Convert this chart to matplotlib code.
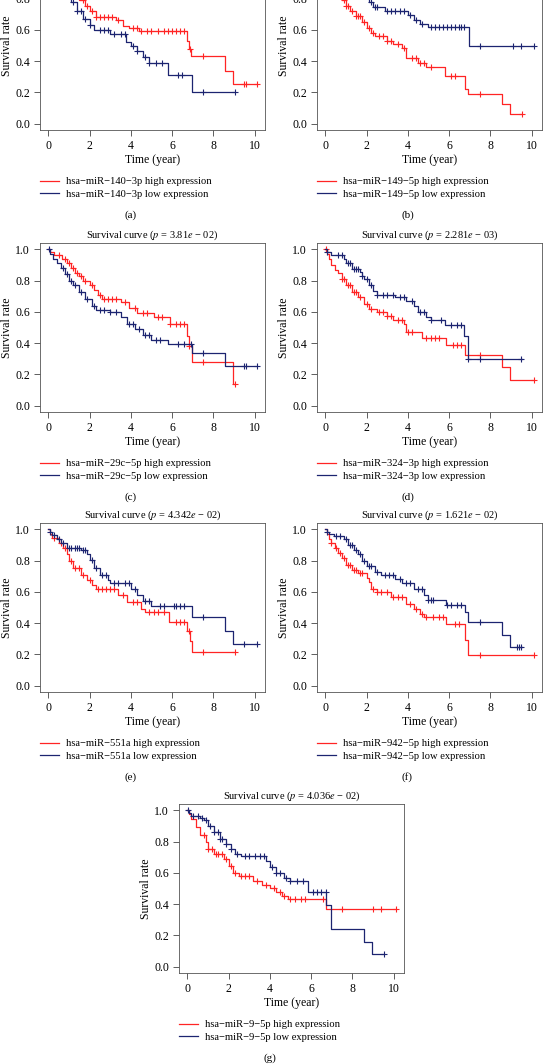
import numpy as np
import matplotlib
matplotlib.use('Agg')
import matplotlib.pyplot as plt
from matplotlib.lines import Line2D
from matplotlib.ticker import FormatStrFormatter

plt.rcParams['font.family'] = ['Liberation Serif', 'DejaVu Serif']
plt.rcParams['mathtext.fontset'] = 'stix'
plt.rcParams['font.size'] = 7.5

RED = '#ff2424'
NAVY = '#1c2470'

# ---- Kaplan-Meier step data (time in years, survival) ----
# (a) hsa-miR-140-3p
a_hi_t = [0, 0.3, 0.6, 0.9, 1.2, 1.5, 1.8, 2.0, 2.3, 3.3, 3.6, 3.9, 4.4, 6.7, 6.8, 6.92, 8.55, 8.93, 10.1]
a_hi_s = [1.0, 0.97, 0.93, 0.89, 0.84, 0.79, 0.75, 0.72, 0.685, 0.66, 0.625, 0.61, 0.595, 0.53, 0.48, 0.43, 0.34, 0.255, 0.255]
a_hi_c = [1.7, 1.9, 2.1, 2.3, 2.5, 2.7, 2.9, 3.1, 3.4, 4.1, 4.3, 4.5, 4.8, 5.0, 5.3, 5.6, 5.8, 6.0, 6.2, 6.4, 6.6, 6.85, 7.5, 9.5, 9.6, 10.1]
a_lo_t = [0, 0.2, 0.5, 0.8, 1.1, 1.4, 1.7, 2.0, 2.2, 3.0, 3.75, 4.0, 4.3, 4.6, 4.9, 5.78, 6.95, 9.07]
a_lo_s = [1.0, 0.96, 0.9, 0.84, 0.78, 0.72, 0.67, 0.63, 0.6, 0.575, 0.52, 0.5, 0.465, 0.425, 0.39, 0.31, 0.205, 0.205]
a_lo_c = [1.2, 1.4, 1.6, 1.8, 2.0, 2.5, 2.7, 2.9, 3.2, 3.5, 3.7, 4.1, 4.3, 4.7, 4.9, 5.2, 5.5, 6.3, 6.5, 7.5, 9.07]

# (b) hsa-miR-149-5p
b_hi_t = [0, 0.15, 0.3, 0.45, 0.6, 0.8, 1.0, 1.2, 1.5, 1.8, 2.0, 2.2, 2.4, 3.0, 3.3, 3.7, 3.9, 4.5, 4.9, 5.82, 6.78, 6.9, 8.55, 8.97, 9.55]
b_hi_s = [1.0, 0.96, 0.92, 0.88, 0.84, 0.79, 0.75, 0.72, 0.69, 0.65, 0.61, 0.58, 0.56, 0.53, 0.51, 0.485, 0.42, 0.39, 0.36, 0.305, 0.225, 0.19, 0.125, 0.063, 0.063]
b_hi_c = [0.9, 1.0, 1.1, 1.3, 1.5, 1.6, 1.7, 1.9, 2.1, 2.3, 2.6, 2.8, 3.0, 3.2, 3.5, 3.8, 4.2, 4.4, 4.6, 4.8, 5.1, 6.1, 6.3, 7.5, 9.55]
b_lo_t = [0, 0.3, 0.6, 1.0, 1.4, 1.8, 2.1, 2.3, 2.9, 4.0, 4.3, 4.6, 5.0, 6.95, 10.1]
b_lo_s = [1.0, 0.97, 0.94, 0.9, 0.86, 0.82, 0.78, 0.745, 0.72, 0.695, 0.665, 0.64, 0.618, 0.495, 0.495]
b_lo_c = [1.2, 1.6, 2.0, 2.2, 2.4, 2.5, 3.0, 3.2, 3.4, 3.6, 3.8, 4.1, 4.4, 4.7, 5.1, 5.3, 5.5, 5.7, 5.9, 6.1, 6.3, 6.5, 6.6, 6.7, 7.5, 9.1, 9.5, 10.1]

# (c) hsa-miR-29c-5p
c_hi_t = [0, 0.1, 0.3, 0.65, 0.9, 1.1, 1.3, 1.5, 1.7, 2.0, 2.2, 2.4, 2.6, 3.5, 3.9, 4.3, 5.1, 5.9, 6.7, 6.8, 6.95, 8.95, 9.05]
c_hi_s = [1.0, 0.985, 0.965, 0.94, 0.91, 0.88, 0.85, 0.83, 0.8, 0.77, 0.74, 0.71, 0.685, 0.66, 0.625, 0.59, 0.565, 0.52, 0.445, 0.38, 0.28, 0.14, 0.14]
c_hi_c = [0.5, 0.8, 1.0, 1.2, 1.4, 1.6, 1.8, 2.1, 2.5, 2.7, 2.9, 3.1, 3.3, 3.7, 4.2, 4.6, 4.8, 5.3, 5.5, 5.9, 6.2, 6.4, 6.6, 6.8, 7.5, 9.05]
c_lo_t = [0, 0.1, 0.25, 0.4, 0.6, 0.8, 1.0, 1.2, 1.5, 1.8, 2.1, 2.3, 3.0, 3.5, 3.8, 4.2, 4.6, 5.0, 5.8, 6.95, 8.55, 10.1]
c_lo_s = [1.0, 0.97, 0.94, 0.91, 0.88, 0.84, 0.8, 0.77, 0.73, 0.68, 0.64, 0.615, 0.6, 0.565, 0.52, 0.49, 0.45, 0.42, 0.395, 0.34, 0.255, 0.255]
c_lo_c = [0.05, 0.7, 0.9, 1.1, 1.3, 1.6, 1.9, 2.2, 2.5, 2.7, 3.0, 3.3, 3.9, 4.1, 4.4, 4.7, 4.9, 5.2, 5.4, 6.3, 6.6, 6.9, 7.5, 9.5, 9.6, 10.1]

# (d) hsa-miR-324-3p
d_hi_t = [0, 0.1, 0.2, 0.3, 0.45, 0.6, 0.8, 1.0, 1.3, 1.6, 1.9, 2.1, 2.5, 3.0, 3.3, 3.8, 3.9, 4.7, 5.85, 6.75, 8.55, 8.95, 10.1]
d_hi_s = [1.0, 0.97, 0.94, 0.9, 0.87, 0.85, 0.81, 0.77, 0.725, 0.695, 0.65, 0.62, 0.6, 0.575, 0.545, 0.52, 0.47, 0.435, 0.39, 0.325, 0.245, 0.165, 0.165]
d_hi_c = [0.05, 0.8, 0.9, 1.1, 1.2, 1.4, 1.5, 1.7, 2.0, 2.2, 2.6, 2.8, 3.0, 3.2, 3.5, 3.7, 4.0, 4.2, 4.9, 5.1, 5.3, 5.5, 6.2, 6.4, 6.6, 7.5, 10.1]
d_lo_t = [0, 0.1, 0.3, 0.9, 1.0, 1.3, 1.7, 1.8, 1.9, 2.1, 2.3, 2.5, 3.4, 3.9, 4.3, 4.5, 4.9, 5.1, 5.8, 6.7, 6.9, 9.55]
d_lo_s = [1.0, 0.985, 0.965, 0.94, 0.91, 0.875, 0.855, 0.83, 0.81, 0.77, 0.735, 0.71, 0.695, 0.67, 0.64, 0.6, 0.565, 0.545, 0.515, 0.445, 0.3, 0.3]
d_lo_c = [0.1, 0.6, 0.8, 1.1, 1.2, 1.4, 1.5, 1.6, 1.8, 2.0, 2.2, 2.5, 2.8, 3.0, 3.3, 3.6, 3.8, 4.2, 4.6, 4.8, 5.1, 5.6, 6.1, 6.4, 6.6, 6.9, 7.5, 9.5]

# (e) hsa-miR-551a
e_hi_t = [0, 0.1, 0.2, 0.5, 0.7, 0.9, 1.0, 1.2, 1.6, 1.9, 2.1, 2.3, 3.4, 3.8, 4.5, 4.7, 5.85, 6.72, 6.85, 6.95, 9.05]
e_hi_s = [1.0, 0.97, 0.945, 0.915, 0.88, 0.84, 0.795, 0.75, 0.71, 0.675, 0.645, 0.62, 0.58, 0.535, 0.49, 0.47, 0.405, 0.35, 0.285, 0.215, 0.215]
e_hi_c = [0.3, 0.6, 0.8, 1.1, 1.3, 1.5, 1.7, 2.0, 2.4, 2.6, 2.8, 3.0, 3.2, 3.6, 4.1, 4.3, 4.9, 5.1, 5.3, 5.6, 6.2, 6.4, 6.6, 6.8, 7.5, 9.05]
e_lo_t = [0, 0.1, 0.2, 0.4, 0.6, 0.9, 1.6, 1.9, 2.0, 2.2, 2.5, 2.9, 3.0, 4.0, 4.3, 4.6, 5.0, 6.95, 8.58, 8.95, 10.1]
e_lo_s = [1.0, 0.985, 0.965, 0.94, 0.91, 0.88, 0.865, 0.84, 0.805, 0.75, 0.71, 0.675, 0.655, 0.62, 0.58, 0.54, 0.51, 0.44, 0.35, 0.265, 0.265]
e_lo_c = [0.1, 0.3, 0.5, 0.7, 1.0, 1.1, 1.3, 1.4, 1.5, 1.7, 1.8, 2.1, 2.3, 2.6, 2.8, 3.2, 3.4, 3.7, 3.9, 4.2, 4.7, 4.9, 5.4, 5.6, 6.1, 6.2, 6.4, 6.6, 7.5, 9.5, 10.1]

# (f) hsa-miR-942-5p
f_hi_t = [0, 0.1, 0.2, 0.3, 0.45, 0.6, 0.8, 1.0, 1.3, 1.6, 2.0, 2.1, 2.2, 2.5, 3.2, 3.9, 4.3, 4.6, 4.8, 5.85, 6.75, 6.9, 10.1]
f_hi_s = [1.0, 0.97, 0.94, 0.91, 0.88, 0.85, 0.815, 0.77, 0.74, 0.72, 0.69, 0.665, 0.62, 0.6, 0.57, 0.525, 0.49, 0.46, 0.44, 0.395, 0.29, 0.195, 0.195]
f_hi_c = [0.3, 0.5, 0.7, 0.9, 1.1, 1.2, 1.4, 1.5, 1.7, 1.8, 2.3, 2.5, 2.7, 3.0, 3.3, 3.5, 3.7, 4.1, 4.4, 4.7, 4.9, 5.2, 5.5, 5.7, 6.3, 6.5, 7.5, 10.1]
f_lo_t = [0, 0.1, 0.2, 0.4, 0.9, 1.1, 1.4, 1.6, 1.8, 2.0, 2.4, 2.7, 3.4, 3.7, 4.3, 4.8, 5.0, 5.85, 6.75, 6.9, 8.55, 8.95, 9.55]
f_lo_s = [1.0, 0.985, 0.97, 0.96, 0.935, 0.9, 0.87, 0.84, 0.795, 0.765, 0.73, 0.705, 0.68, 0.655, 0.62, 0.58, 0.55, 0.515, 0.47, 0.405, 0.325, 0.245, 0.245]
f_lo_c = [0.1, 0.5, 0.7, 1.0, 1.2, 1.3, 1.5, 1.7, 1.9, 2.1, 2.2, 2.5, 2.9, 3.1, 3.3, 3.6, 3.9, 4.1, 4.5, 4.7, 5.0, 5.1, 5.2, 5.9, 6.1, 6.4, 6.6, 7.5, 9.3, 9.4, 9.5]

# (g) hsa-miR-9-5p
g_hi_t = [0, 0.1, 0.2, 0.4, 0.6, 0.9, 1.0, 1.3, 1.8, 2.0, 2.2, 2.5, 3.2, 3.6, 4.0, 4.3, 4.6, 4.9, 6.7, 10.1]
g_hi_s = [1.0, 0.975, 0.945, 0.89, 0.84, 0.795, 0.755, 0.72, 0.69, 0.645, 0.6, 0.58, 0.55, 0.525, 0.505, 0.475, 0.45, 0.43, 0.37, 0.37]
g_hi_c = [0.8, 1.0, 1.2, 1.4, 1.5, 1.7, 1.9, 2.1, 2.3, 2.6, 2.8, 3.0, 3.4, 3.8, 4.2, 4.5, 4.7, 5.0, 5.2, 5.5, 5.7, 6.6, 7.5, 9.0, 9.4, 10.1]
g_lo_t = [0, 0.1, 0.2, 0.6, 0.8, 1.0, 1.3, 1.6, 1.9, 2.1, 2.3, 2.6, 3.8, 4.0, 4.3, 4.7, 5.0, 5.85, 6.72, 6.95, 8.58, 8.95, 9.55]
g_lo_s = [1.0, 0.985, 0.965, 0.95, 0.935, 0.9, 0.86, 0.815, 0.785, 0.755, 0.72, 0.705, 0.675, 0.635, 0.6, 0.57, 0.545, 0.475, 0.395, 0.24, 0.16, 0.08, 0.08]
g_lo_c = [0.05, 0.3, 0.5, 0.7, 0.9, 1.1, 1.3, 1.5, 1.6, 1.7, 1.9, 2.1, 2.4, 2.8, 3.0, 3.3, 3.5, 3.7, 4.1, 4.3, 4.5, 4.8, 5.0, 5.3, 5.6, 6.1, 6.3, 6.5, 6.7, 9.55]

genes = ['hsa\u2212miR\u2212140\u22123p', 'hsa\u2212miR\u2212149\u22125p', 'hsa\u2212miR\u221229c\u22125p',
         'hsa\u2212miR\u2212324\u22123p', 'hsa\u2212miR\u2212551a', 'hsa\u2212miR\u2212942\u22125p',
         'hsa\u2212miR\u22129\u22125p']
pvals = [None, None, '3.81', '2.281', '4.342', '1.621', '4.036']
pexps = [None, None, '02', '03', '02', '02', '02']
labels = ['(a)', '(b)', '(c)', '(d)', '(e)', '(f)', '(g)']

curves = [
    (a_hi_t, a_hi_s, a_hi_c, a_lo_t, a_lo_s, a_lo_c),
    (b_hi_t, b_hi_s, b_hi_c, b_lo_t, b_lo_s, b_lo_c),
    (c_hi_t, c_hi_s, c_hi_c, c_lo_t, c_lo_s, c_lo_c),
    (d_hi_t, d_hi_s, d_hi_c, d_lo_t, d_lo_s, d_lo_c),
    (e_hi_t, e_hi_s, e_hi_c, e_lo_t, e_lo_s, e_lo_c),
    (f_hi_t, f_hi_s, f_hi_c, f_lo_t, f_lo_s, f_lo_c),
    (g_hi_t, g_hi_s, g_hi_c, g_lo_t, g_lo_s, g_lo_c),
]

# layout in pixels: (left, bottom measured from top)
W, H = 545, 1064
AW, AH = 225, 169
pos_px = [(40, 130), (317, 130), (40, 412), (317, 412), (40, 692), (317, 692), (179, 973)]

fig = plt.figure(figsize=(W / 100, H / 100), dpi=100)


def km(ax, t, s, cens, color):
    t = np.asarray(t)
    s = np.asarray(s)
    ax.step(t, s, where='post', color=color, lw=0.9)
    idx = np.searchsorted(t, cens, side='right') - 1
    ax.plot(cens, s[idx], ls='none', marker='+', ms=5, mew=0.8, color=color)


for i, (left, bot) in enumerate(pos_px):
    ax = fig.add_axes([left / W, (H - bot) / H, AW / W, AH / H])
    hi_t, hi_s, hi_c, lo_t, lo_s, lo_c = curves[i]
    km(ax, hi_t, hi_s, hi_c, RED)
    km(ax, lo_t, lo_s, lo_c, NAVY)

    ax.set_xlim(-0.4, 10.5)
    ax.set_ylim(-0.04, 1.04)
    ax.set_xticks(range(0, 11, 2))
    ax.set_yticks([0, 0.2, 0.4, 0.6, 0.8, 1.0])
    ax.yaxis.set_major_formatter(FormatStrFormatter('%.1f'))
    ax.tick_params(direction='out', length=4, width=0.6, color='#444444',
                   labelsize=8.5, pad=3.2)
    for sp in ax.spines.values():
        sp.set_linewidth(0.6)
        sp.set_color('#555555')

    ax.set_xlabel('Time (year)', fontsize=8.5)
    ax.xaxis.set_label_coords(0.5, -0.14)
    ax.set_ylabel('Survival rate', fontsize=8.5)
    ax.yaxis.set_label_coords(-0.122, 0.5)

    if pvals[i] is not None:
        ax.set_title('Survival curve ($p$ = %s$e$ \u2212 %s)' % (pvals[i], pexps[i]),
                     fontsize=7.5, pad=4)

    handles = [Line2D([], [], color=RED, lw=0.9), Line2D([], [], color=NAVY, lw=0.9)]
    ax.legend(handles, [genes[i] + ' high expression', genes[i] + ' low expression'],
              loc='upper left', bbox_to_anchor=(0, -0.278), frameon=False,
              borderpad=0, borderaxespad=0, handlelength=1.8, handletextpad=0.65,
              labelspacing=0.3, fontsize=7.6)

    cx = left + AW / 2 - 22
    fig.text(cx / W, 1 - (bot + 85) / H, labels[i], ha='center', va='center', fontsize=8)

fig.savefig('out.png', dpi=100)
